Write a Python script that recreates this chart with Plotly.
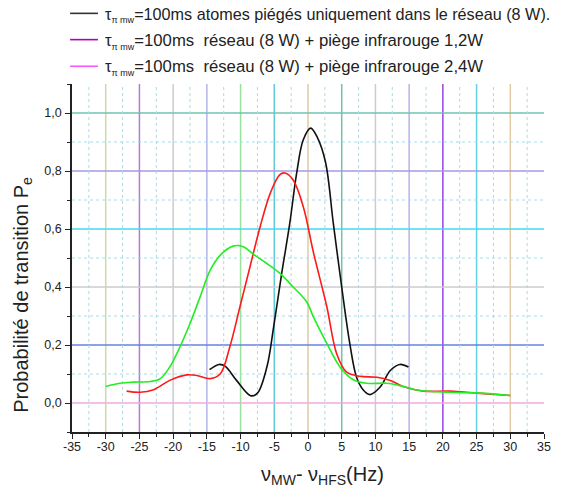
import plotly.graph_objects as go

# ---------------- data ----------------
black_x = [-14.6, -13.2, -12.3, -10.6, -8.5, -7.5, -6.1, -5.1, -3.9, -2.7, -1.7, -0.7, 0.4,
           1.4, 2.6, 3.75, 5.0, 6.2, 7.2, 8.2, 9.2, 10.7, 12.2, 13.6, 14.9]
black_y = [0.115, 0.133, 0.127, 0.078, 0.025, 0.034, 0.124, 0.262, 0.447, 0.62, 0.79, 0.908, 0.948,
           0.915, 0.83, 0.62, 0.40, 0.205, 0.089, 0.045, 0.029, 0.055, 0.112, 0.133, 0.124]

red_x = [-26.9, -24.9, -22.9, -20.5, -18.0, -16.5, -14.5, -13.0, -11.6, -10.1, -8.6, -7.1, -5.6,
         -4.2, -3.4, -2.2, -0.7, 0.8, 2.8, 4.25, 5.7, 7.7, 10.2, 12.2, 14.1, 17.1, 21.1, 25.0, 30.0]
red_y = [0.041, 0.037, 0.046, 0.078, 0.097, 0.095, 0.084, 0.101, 0.193, 0.331, 0.47, 0.608, 0.723,
         0.787, 0.793, 0.769, 0.677, 0.52, 0.331, 0.17, 0.107, 0.092, 0.089, 0.078, 0.057, 0.041,
         0.041, 0.034, 0.026]

green_x = [-30.0, -27.9, -25.9, -23.4, -21.9, -20.5, -19.0, -17.5, -16.0, -14.5, -13.0, -11.1, -9.6,
           -8.1, -6.1, -4.15, -2.2, -0.2, 0.8, 2.8, 4.75, 6.7, 8.7, 11.7, 13.6, 16.6, 21.1, 25.5, 30.0]
green_y = [0.057, 0.068, 0.072, 0.074, 0.084, 0.124, 0.193, 0.274, 0.366, 0.458, 0.51, 0.541, 0.539,
           0.513, 0.481, 0.447, 0.40, 0.349, 0.297, 0.205, 0.124, 0.08, 0.068, 0.068, 0.06, 0.043,
           0.037, 0.034, 0.026]

tau = "τ<sub><span style='font-size:9px'>π mw</span></sub>"
legend_names = [
    tau + "=100ms atomes piégés uniquement dans le réseau (8 W).",
    tau + "=100ms&nbsp; réseau (8 W) + piège infrarouge 1,2W",
    tau + "=100ms&nbsp; réseau (8 W) + piège infrarouge 2,4W",
]
legend_colors = ["#333333", "#b000b0", "#ff55ff"]
legend_rows = [1.199, 1.1235, 1.047]   # legend row positions (paper units)
legend_sizes = [16.2, 16.7, 16.7]

x_ticks = [-35, -30, -25, -20, -15, -10, -5, 0, 5, 10, 15, 20, 25, 30, 35]
x_ticktext = [str(v) for v in x_ticks]
y_ticks = [0.0, 0.2, 0.4, 0.6, 0.8, 1.0]
y_ticktext = ["0,0", "0,2", "0,4", "0,6", "0,8", "1,0"]

x_title = "ν<sub>MW</sub>- ν<sub>HFS</sub>(Hz)"
y_title = "Probabilité de transition P<sub>e</sub>"

# coloured major grid lines (Origin style)
vgrid_x = [-30, -25, -20, -15, -10, -5, 0, 5, 10, 15, 20, 25, 30]
vgrid_colors = ["#cdd9ad", "#b57ad8", "#cccccc", "#b4b4ea", "#98e09c", "#62c9d6", "#dccca4",
                "#72c1ab", "#cccccc", "#b4b4ea", "#9444e6", "#62d2e2", "#e2cca4"]
hgrid_y = [0.0, 0.2, 0.4, 0.6, 0.8, 1.0]
hgrid_colors = ["#f2a8e2", "#6482e2", "#cccccc", "#44d8f2", "#a898e4", "#72c2b2"]
vminor_x = [-32.5, -27.5, -22.5, -17.5, -12.5, -7.5, -2.5, 2.5, 7.5, 12.5, 17.5, 22.5, 27.5, 32.5]
hminor_y = [0.1, 0.3, 0.5, 0.7, 0.9]

font_family = "Arial, Liberation Sans, sans-serif"

fig = go.Figure()

fig.add_trace(go.Scatter(x=black_x, y=black_y, mode="lines", name="100ms réseau",
                         line=dict(color="#111111", width=1.6, shape="spline", smoothing=1.0)))
fig.add_trace(go.Scatter(x=red_x, y=red_y, mode="lines", name="1,2W",
                         line=dict(color="#ff1a1a", width=1.6, shape="spline", smoothing=1.0)))
fig.add_trace(go.Scatter(x=green_x, y=green_y, mode="lines", name="2,4W",
                         line=dict(color="#22ee22", width=1.6, shape="spline", smoothing=1.0)))

shapes = []
for xv, c in zip(vgrid_x, vgrid_colors):
    shapes.append(dict(type="line", xref="x", yref="paper", x0=xv, x1=xv, y0=0, y1=1,
                       line=dict(color=c, width=1.5), layer="below"))
for yv, c in zip(hgrid_y, hgrid_colors):
    shapes.append(dict(type="line", xref="paper", yref="y", x0=0, x1=1, y0=yv, y1=yv,
                       line=dict(color=c, width=1.5), layer="below"))
for xv in vminor_x:
    shapes.append(dict(type="line", xref="x", yref="paper", x0=xv, x1=xv, y0=0, y1=1,
                       line=dict(color="#a6dbe9", width=1, dash="dot"), layer="below"))
for yv in hminor_y:
    shapes.append(dict(type="line", xref="paper", yref="y", x0=0, x1=1, y0=yv, y1=yv,
                       line=dict(color="#a6dbe9", width=1, dash="dot"), layer="below"))

annotations = [
    dict(text=y_title, xref="paper", yref="paper", x=-0.104, y=0.394, xanchor="center",
         yanchor="middle", textangle=-90, showarrow=False, font=dict(size=20, color="#222222")),
    dict(text=x_title, xref="paper", yref="paper", x=0.53, y=-0.126, xanchor="center",
         yanchor="middle", showarrow=False, font=dict(size=20, color="#222222")),
]

# legend (drawn as line samples + texts above the plot)
for name, col, ry, fs in zip(legend_names, legend_colors, legend_rows, legend_sizes):
    shapes.append(dict(type="line", xref="paper", yref="paper", x0=-0.004, x1=0.055,
                       y0=ry + 0.004, y1=ry + 0.004, line=dict(color=col, width=1.6)))
    annotations.append(dict(text=name, xref="paper", yref="paper", x=0.0655, y=ry,
                            xanchor="left", yanchor="middle", showarrow=False,
                            font=dict(size=fs, color="#222222")))

fig.update_layout(
    width=560, height=480, autosize=False,
    margin=dict(l=64, r=24, t=76, b=56, autoexpand=False),
    paper_bgcolor="white", plot_bgcolor="white",
    font=dict(family=font_family, color="#222222"),
    shapes=shapes, annotations=annotations,
    showlegend=False,
    xaxis=dict(range=[-35, 35], tickvals=x_ticks, ticktext=x_ticktext, automargin=False,
               ticks="outside", ticklen=5, tickwidth=1.2, tickcolor="#222222",
               showline=True, linecolor="#222222", linewidth=1.5, ticklabelstandoff=-3,
               showgrid=False, zeroline=False, tickfont=dict(size=12.5),
               minor=dict(dtick=2.5, ticks="outside", ticklen=3, tickcolor="#222222", showgrid=False)),
    yaxis=dict(range=[-0.1, 1.1], tickvals=y_ticks, ticktext=y_ticktext, automargin=False,
               ticks="outside", ticklen=5, tickwidth=1.2, tickcolor="#222222",
               showline=True, linecolor="#222222", linewidth=1.5, ticklabelstandoff=1,
               showgrid=False, zeroline=False, tickfont=dict(size=12.5),
               minor=dict(dtick=0.1, ticks="outside", ticklen=3, tickcolor="#222222", showgrid=False)),
)

fig.write_html("out.html")
